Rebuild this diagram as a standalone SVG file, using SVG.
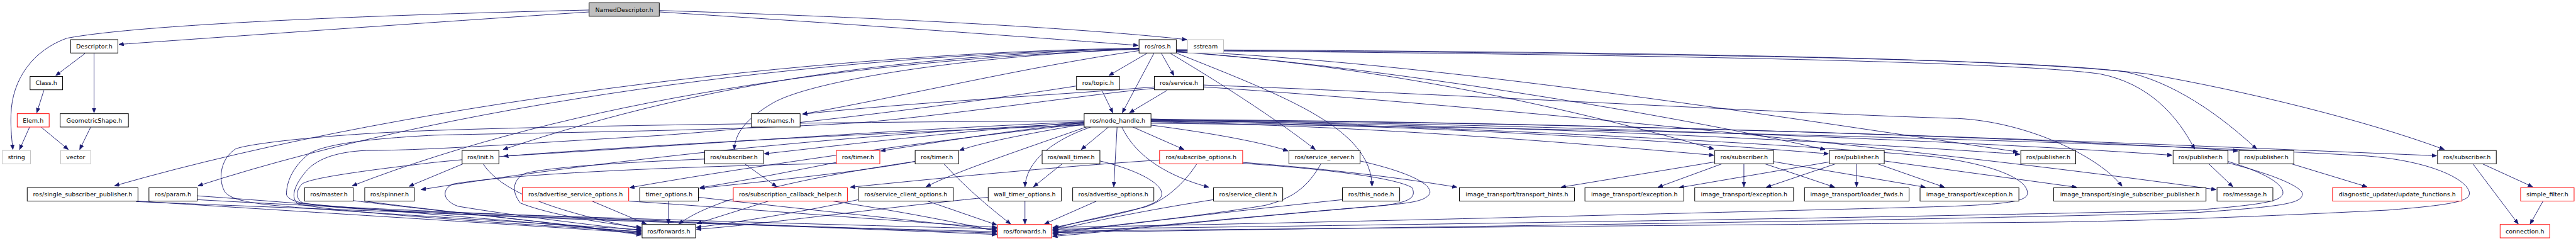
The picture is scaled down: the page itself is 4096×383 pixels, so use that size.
<svg xmlns="http://www.w3.org/2000/svg" width="4096" height="383" viewBox="0 0 4096 383">
<defs>
<marker id="a" markerUnits="userSpaceOnUse" markerWidth="11" markerHeight="9" refX="10" refY="4" orient="auto" viewBox="0 0 11 9"><path d="M0,0L10,4L0,8z" fill="#191970" stroke="#191970"/></marker>
</defs>
<style>
.e path{fill:none;stroke:#191970;stroke-width:1.2;marker-end:url(#a)}
rect{fill:#fff;stroke:#000;stroke-width:1.3}
.r rect{stroke:#f00}
.g rect{stroke:#bfbfbf}
.f rect{fill:#bfbfbf}
text{font-family:"DejaVu Sans",sans-serif;font-size:12.6px;text-anchor:middle;fill:#000}
</style>
<rect x="0" y="0" width="4096" height="383" style="fill:#fff;stroke:none"/>
<g transform="scale(0.75908)">
<g id="connectors" class="e">
<path d="M1234,21 C800,31 300,50 140,80 C70,105 25,165 23,240 C22,270 25,295 27,313"/>
<path d="M1234,25 C900,47 460,78 249,93"/>
<path d="M1381,22 C1900,38 2300,62 2486,83"/>
<path d="M1381,25 C1900,58 2250,85 2384,95"/>
<path d="M178,112 L117,158"/>
<path d="M197,112 L197,236"/>
<path d="M92,189 L77,236"/>
<path d="M62,266 L41,313"/>
<path d="M86,266 L143,313"/>
<path d="M190,266 L167,313"/>
<path d="M2402,112 L2323,158"/>
<path d="M2417,112 L2351,236"/>
<path d="M2433,112 L2459,158"/>
<path d="M2308,189 L2331,236"/>
<path d="M2445,189 L2366,236"/>
<path d="M2386,106 C2150,140 1900,200 1681,239"/>
<path d="M2418,182 C2200,200 1900,215 1681,239"/>
<path d="M2386,102 C2000,120 1700,170 1620,215 C1560,250 1540,280 1538,313"/>
<path d="M2386,101 C1900,118 1500,165 1054,313"/>
<path d="M2386,103 C1800,125 1200,210 738,389"/>
<path d="M2386,102 C1800,112 1000,200 415,389"/>
<path d="M2386,101 C1800,108 900,200 240,389"/>
<path d="M2464,111 C2700,205 2872,270 2874,390"/>
<path d="M2452,112 C2600,200 2700,270 2755,313"/>
<path d="M2464,109 C2800,130 3200,200 3590,312"/>
<path d="M2464,108 C2900,140 3500,240 3823,313"/>
<path d="M2464,107 C3000,130 3700,240 4227,318"/>
<path d="M2521,178 C3000,195 3800,240 4100,248 C4250,255 4400,330 4445,390"/>
<path d="M2464,106 C3200,112 4200,125 4400,155 C4500,175 4560,240 4597,312"/>
<path d="M2464,105 C3200,110 4200,118 4450,150 C4550,170 4650,240 4727,312"/>
<path d="M2464,104 C3300,108 4200,118 4500,155 C4700,190 4950,250 5120,313"/>
<path d="M2271,255 C1900,270 1500,300 1055,327"/>
<path d="M2271,256 C2000,275 1800,300 1601,322"/>
<path d="M2271,257 C2100,275 1950,300 1845,316"/>
<path d="M2271,260 C2150,280 2050,300 2010,315"/>
<path d="M2322,266 L2265,313"/>
<path d="M2275,266 C2150,310 2000,360 1940,391"/>
<path d="M2285,266 C2200,295 2150,340 2147,391"/>
<path d="M2340,266 L2333,391"/>
<path d="M2350,266 C2380,330 2450,370 2532,392"/>
<path d="M2373,266 L2480,313"/>
<path d="M2271,258 C1800,280 1300,330 882,397"/>
<path d="M2271,259 C1900,300 1500,360 1319,393"/>
<path d="M2411,262 C2550,280 2650,300 2698,316"/>
<path d="M2411,255 C2900,265 3300,300 3590,325"/>
<path d="M2411,254 C3000,262 3500,295 3830,322"/>
<path d="M2411,253 C3200,260 3900,300 4231,323"/>
<path d="M2411,252 C3300,258 4200,300 4550,325"/>
<path d="M2411,251 C3400,256 4400,295 4688,316"/>
<path d="M2411,250 C3500,255 4700,310 5104,326"/>
<path d="M2521,182 C3100,220 4100,320 4642,397"/>
<path d="M4627,343 L4677,391"/>
<path d="M4800,343 L4958,391"/>
<path d="M5180,343 L5275,469"/>
<path d="M5200,343 L5305,391"/>
<path d="M5327,421 L5300,469"/>
<path d="M3592,339 L3270,392"/>
<path d="M3607,343 L3473,392"/>
<path d="M3653,343 L3653,391"/>
<path d="M3697,343 L3843,392"/>
<path d="M3713,338 L4033,392"/>
<path d="M3832,339 L3517,393"/>
<path d="M3845,343 L3700,392"/>
<path d="M3889,343 L3889,391"/>
<path d="M3933,343 L4073,392"/>
<path d="M3947,337 L4350,392"/>
<path d="M2603,340 C2800,355 2950,375 3052,392"/>
<path d="M2429,335 C2200,350 1950,375 1781,392"/>
<path d="M1560,343 L1627,391"/>
<path d="M1752,340 C1650,360 1550,380 1466,393"/>
<path d="M1917,338 C1800,360 1600,380 1466,394"/>
<path d="M2225,343 L2165,391"/>
<path d="M970,343 L857,390"/>
<path d="M1977,343 C2030,400 2080,440 2117,469"/>
<path d="M2147,421 L2147,469"/>
<path d="M2297,421 L2188,469"/>
<path d="M1943,421 L2088,471"/>
<path d="M1400,421 L1400,469"/>
<path d="M1610,421 L1460,468"/>
<path d="M1240,421 L1354,469"/>
<path d="M1012,343 C1050,400 1150,440 1343,479"/>
<path d="M2271,253 C1900,255 1300,260 910,273 C700,280 520,300 493,312 C465,330 455,370 470,400 C485,425 560,430 700,440 C1000,460 1250,475 1343,481"/>
<path d="M2418,185 C2300,195 2000,240 1800,257 C1500,275 1100,278 910,283 C780,290 690,300 650,320 C610,350 600,385 600,407 C605,425 650,432 800,440 C1300,458 1800,472 2088,479"/>
<path d="M2255,180 C2000,220 1600,270 1360,285 C1100,300 900,315 767,315 C700,318 660,335 640,360 C615,390 608,415 625,427 C700,445 1100,470 1343,485"/>
<path d="M2271,262 C1900,275 1200,310 910,340 C780,355 650,372 633,385 C618,400 620,418 635,425 C800,450 1500,470 2088,485"/>
<path d="M1476,333 C1300,340 1150,350 1100,363 C1075,375 1070,400 1090,425 C1150,450 1280,470 1343,476"/>
<path d="M1752,342 C1500,347 1100,360 950,385 C925,395 925,420 960,432 C1100,455 1250,472 1343,483"/>
<path d="M289,421 C500,435 1000,465 1343,488"/>
<path d="M285,422 C700,440 1600,470 2088,491"/>
<path d="M413,410 C700,430 1100,465 1343,486"/>
<path d="M413,418 C800,440 1600,472 2088,488"/>
<path d="M740,420 C900,440 1200,470 1343,490"/>
<path d="M764,421 C900,440 1200,470 1343,492"/>
<path d="M1317,421 C1600,440 1900,465 2088,476"/>
<path d="M1463,413 C1700,440 1950,465 2088,482"/>
<path d="M1745,421 C1900,445 2000,465 2088,484"/>
<path d="M1798,418 C1700,440 1550,465 1459,476"/>
<path d="M2070,413 C1800,440 1600,470 1459,480"/>
<path d="M1917,338 C1700,370 1500,410 1422,469"/>
<path d="M2304,337 C2380,355 2440,385 2433,410 C2425,435 2330,450 2205,477"/>
<path d="M2507,343 C2480,385 2440,420 2400,433 C2330,450 2250,465 2205,480"/>
<path d="M2542,418 C2400,440 2280,465 2205,483"/>
<path d="M2767,343 C2740,390 2710,415 2650,430 C2500,455 2300,475 2205,486"/>
<path d="M2812,418 C2600,440 2350,470 2205,489"/>
<path d="M2603,342 C2800,355 2930,375 2958,393 C2968,415 2950,423 2900,430 C2600,455 2350,480 2205,492"/>
<path d="M2849,337 C2950,360 3000,385 2995,405 C2985,423 2950,425 2880,432 C2600,455 2350,482 2205,495"/>
<path d="M2411,258 C3500,270 4500,300 4950,326 C5080,335 5160,370 5172,400 C5178,420 5150,428 5000,440 C4700,455 4500,462 4300,465 C3500,472 2600,480 2207,484"/>
<path d="M4667,338 C4740,360 4785,385 4782,405 C4778,422 4740,428 4600,440 C4000,455 3000,470 2207,480"/>
<path d="M4667,341 C4780,370 4825,395 4823,407 C4820,425 4790,432 4600,445 C4000,462 3000,475 2207,487"/>
<path d="M2411,249 C3200,270 3800,305 4050,328 C4180,345 4245,375 4247,403 C4248,420 4220,428 4050,433 C3400,450 2600,470 2207,476"/>
</g>
<g id="n_nameddescriptor" class="f"><rect x="1234" y="6" width="147" height="28"/><text x="1307.5" y="24.5">NamedDescriptor.h</text></g>
<g id="n_descriptor"><rect x="148" y="83" width="99" height="28"/><text x="197.5" y="101.5">Descriptor.h</text></g>
<g id="n_ros"><rect x="2386" y="83" width="78" height="28"/><text x="2425" y="101.5">ros/ros.h</text></g>
<g id="n_sstream" class="g"><rect x="2488" y="83" width="75" height="28"/><text x="2525.5" y="101.5">sstream</text></g>
<g id="n_class"><rect x="63" y="160" width="68" height="28"/><text x="97" y="178.5">Class.h</text></g>
<g id="n_topic"><rect x="2255" y="160" width="90" height="28"/><text x="2300" y="178.5">ros/topic.h</text></g>
<g id="n_service"><rect x="2418" y="160" width="103" height="28"/><text x="2469.5" y="178.5">ros/service.h</text></g>
<g id="n_elem" class="r"><rect x="36" y="238" width="67" height="28"/><text x="69.5" y="256.5">Elem.h</text></g>
<g id="n_geometricshape"><rect x="126" y="238" width="143" height="28"/><text x="197.5" y="256.5">GeometricShape.h</text></g>
<g id="n_names"><rect x="1574" y="238" width="102" height="28"/><text x="1625" y="256.5">ros/names.h</text></g>
<g id="n_node_handle"><rect x="2271" y="238" width="140" height="28"/><text x="2341" y="256.5">ros/node_handle.h</text></g>
<g id="n_string" class="g"><rect x="5" y="315" width="59" height="28"/><text x="34.5" y="333.5">string</text></g>
<g id="n_vector" class="g"><rect x="127" y="315" width="63" height="28"/><text x="158.5" y="333.5">vector</text></g>
<g id="n_init"><rect x="968" y="315" width="77" height="28"/><text x="1006.5" y="333.5">ros/init.h</text></g>
<g id="n_subscriber1"><rect x="1476" y="315" width="123" height="28"/><text x="1537.5" y="333.5">ros/subscriber.h</text></g>
<g id="n_timer1" class="r"><rect x="1752" y="315" width="91" height="28"/><text x="1797.5" y="333.5">ros/timer.h</text></g>
<g id="n_timer2"><rect x="1917" y="315" width="91" height="28"/><text x="1962.5" y="333.5">ros/timer.h</text></g>
<g id="n_wall_timer"><rect x="2183" y="315" width="121" height="28"/><text x="2243.5" y="333.5">ros/wall_timer.h</text></g>
<g id="n_subscribe_options" class="r"><rect x="2429" y="315" width="174" height="28"/><text x="2516" y="333.5">ros/subscribe_options.h</text></g>
<g id="n_service_server"><rect x="2700" y="315" width="149" height="28"/><text x="2774.5" y="333.5">ros/service_server.h</text></g>
<g id="n_subscriber2"><rect x="3592" y="315" width="123" height="28"/><text x="3653.5" y="333.5">ros/subscriber.h</text></g>
<g id="n_publisher1"><rect x="3832" y="315" width="115" height="28"/><text x="3889.5" y="333.5">ros/publisher.h</text></g>
<g id="n_publisher2"><rect x="4233" y="315" width="115" height="28"/><text x="4290.5" y="333.5">ros/publisher.h</text></g>
<g id="n_publisher3"><rect x="4552" y="315" width="115" height="28"/><text x="4609.5" y="333.5">ros/publisher.h</text></g>
<g id="n_publisher4"><rect x="4690" y="315" width="115" height="28"/><text x="4747.5" y="333.5">ros/publisher.h</text></g>
<g id="n_subscriber3"><rect x="5106" y="315" width="123" height="28"/><text x="5167.5" y="333.5">ros/subscriber.h</text></g>
<g id="n_single_subscriber_publisher"><rect x="57" y="393" width="232" height="28"/><text x="173" y="411.5">ros/single_subscriber_publisher.h</text></g>
<g id="n_param"><rect x="312" y="393" width="101" height="28"/><text x="362.5" y="411.5">ros/param.h</text></g>
<g id="n_master"><rect x="638" y="393" width="102" height="28"/><text x="689" y="411.5">ros/master.h</text></g>
<g id="n_spinner"><rect x="764" y="393" width="104" height="28"/><text x="816" y="411.5">ros/spinner.h</text></g>
<g id="n_advertise_service_options" class="r"><rect x="1094" y="393" width="223" height="28"/><text x="1205.5" y="411.5">ros/advertise_service_options.h</text></g>
<g id="n_timer_options"><rect x="1340" y="393" width="123" height="28"/><text x="1401.5" y="411.5">timer_options.h</text></g>
<g id="n_subscription_callback_helper" class="r"><rect x="1536" y="393" width="239" height="28"/><text x="1655.5" y="411.5">ros/subscription_callback_helper.h</text></g>
<g id="n_service_client_options"><rect x="1798" y="393" width="199" height="28"/><text x="1897.5" y="411.5">ros/service_client_options.h</text></g>
<g id="n_wall_timer_options"><rect x="2070" y="393" width="153" height="28"/><text x="2146.5" y="411.5">wall_timer_options.h</text></g>
<g id="n_advertise_options"><rect x="2247" y="393" width="170" height="28"/><text x="2332" y="411.5">ros/advertise_options.h</text></g>
<g id="n_service_client"><rect x="2542" y="393" width="145" height="28"/><text x="2614.5" y="411.5">ros/service_client.h</text></g>
<g id="n_this_node"><rect x="2812" y="393" width="120" height="28"/><text x="2872" y="411.5">ros/this_node.h</text></g>
<g id="n_transport_hints"><rect x="3057" y="393" width="241" height="28"/><text x="3177.5" y="411.5">image_transport/transport_hints.h</text></g>
<g id="n_exception1"><rect x="3320" y="393" width="207" height="28"/><text x="3423.5" y="411.5">image_transport/exception.h</text></g>
<g id="n_exception2"><rect x="3550" y="393" width="207" height="28"/><text x="3653.5" y="411.5">image_transport/exception.h</text></g>
<g id="n_loader_fwds"><rect x="3780" y="393" width="219" height="28"/><text x="3889.5" y="411.5">image_transport/loader_fwds.h</text></g>
<g id="n_exception3"><rect x="4022" y="393" width="207" height="28"/><text x="4125.5" y="411.5">image_transport/exception.h</text></g>
<g id="n_it_single_subscriber_publisher"><rect x="4302" y="393" width="319" height="28"/><text x="4461.5" y="411.5">image_transport/single_subscriber_publisher.h</text></g>
<g id="n_message"><rect x="4644" y="393" width="117" height="28"/><text x="4702.5" y="411.5">ros/message.h</text></g>
<g id="n_update_functions" class="r"><rect x="4886" y="393" width="271" height="28"/><text x="5021.5" y="411.5">diagnostic_updater/update_functions.h</text></g>
<g id="n_simple_filter" class="r"><rect x="5280" y="393" width="112" height="28"/><text x="5336" y="411.5">simple_filter.h</text></g>
<g id="n_forwards1"><rect x="1345" y="470" width="112" height="28"/><text x="1401" y="488.5">ros/forwards.h</text></g>
<g id="n_forwards2" class="r"><rect x="2090" y="470" width="113" height="28"/><text x="2146.5" y="488.5">ros/forwards.h</text></g>
<g id="n_connection" class="r"><rect x="5237" y="470" width="104" height="28"/><text x="5289" y="488.5">connection.h</text></g>
</g>
</svg>
